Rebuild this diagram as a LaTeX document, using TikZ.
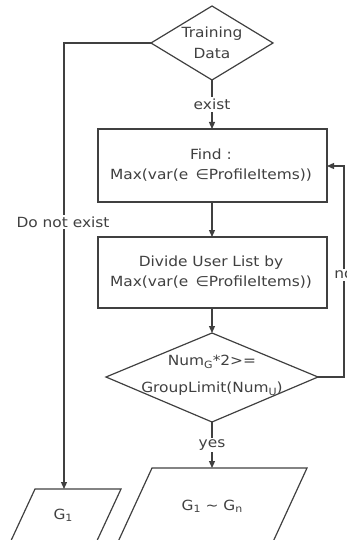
\documentclass[tikz,border=0pt]{standalone}
\usepackage{fontspec}
\setmainfont{DejaVu Sans}[FakeStretch=1.1]
\usetikzlibrary{arrows.meta}

% small lowered index for labels such as G_1
\newcommand{\lowidx}[1]{\raisebox{-0.3ex}{\fontsize{10}{10}\selectfont #1}}

\begin{document}
\begin{tikzpicture}[x=1pt,y=-1pt,
  line/.style={draw=black!75, line width=1.2pt},
  flow/.style={line, -{Triangle[length=7pt,width=6pt]}},
  txt/.style={text=black!75, font=\fontsize{14}{20.5}\selectfont, align=center, inner sep=1pt},
  lbl/.style={txt, fill=white, inner sep=2pt},
  procbox/.style={line, fill=white}
]
\useasboundingbox (0,0) rectangle (347,540);

% decision: Training Data
\coordinate (d1n) at (212,6);
\coordinate (d1s) at (212,80);
\coordinate (d1w) at (151,43);
\coordinate (d1e) at (273,43);
\draw[line] (d1n) -- (d1e) -- (d1s) -- (d1w) -- cycle;
\node[txt] (d1) at (212,43) {Training\\Data};

% process boxes
\draw[procbox] (98,129) rectangle (327,202);
\coordinate (b1n) at (212,129);
\coordinate (b1s) at (212,202);
\coordinate (b1e) at (327,166);
\node[txt] (b1) at (211,165) {Find :\\Max(var(e \,∈ProfileItems))};

\draw[procbox] (98,237) rectangle (327,308);
\coordinate (b2n) at (212,237);
\coordinate (b2s) at (212,308);
\node[txt] (b2) at (211,272) {Divide User List by\\Max(var(e \,∈ProfileItems))};

% decision: group size test
\coordinate (d2n) at (212,333);
\coordinate (d2s) at (212,422);
\coordinate (d2w) at (106,377);
\coordinate (d2e) at (318,377);
\draw[line] (d2n) -- (d2e) -- (d2s) -- (d2w) -- cycle;
\node[txt] (d2a) at (212,362) {Num\lowidx{G}*2>=};
\node[txt] (d2b) at (212,389) {GroupLimit(Num\lowidx{U})};

% outputs
\coordinate (g1n) at (64,489);
\draw[line] (35,489) -- (121,489) -- ++(-26,56) -- ++(-86,0) -- cycle;
\node[txt] (g1) at (63,515) {G\lowidx{1}};

\coordinate (gnn) at (212,468);
\draw[line] (152,468) -- (307,468) -- ++(-35,76) -- ++(-155,0) -- cycle;
\node[txt] (gn) at (212,506) {G\lowidx{1} \textasciitilde{} G\lowidx{n}};

% connectors
\draw[flow] (d1s) -- node[lbl] {exist} (b1n);
\draw[flow] (b1s) -- (b2n);
\draw[flow] (b2s) -- (d2n);
\draw[flow] (d2s) -- node[lbl, pos=0.5] {yes} (gnn);
\draw[flow] (d1w) -| (g1n);
\node[lbl] (dne) at (63,222) {Do not exist};
\coordinate (loopb) at (344,377);
\coordinate (loopt) at (344,166);
\draw[flow] (d2e) -- (loopb) -- (loopt) -- (b1e);
\node[lbl] (no) at (344,275) {no};
\end{tikzpicture}
\end{document}
